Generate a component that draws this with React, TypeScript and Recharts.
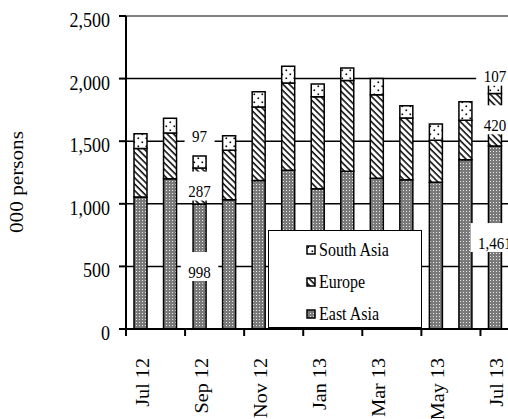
import React from 'react';
import { BarChart, Bar, XAxis, YAxis, CartesianGrid, Legend, LabelList, ReferenceLine } from 'recharts';

const months = ['Jul 12', 'Aug 12', 'Sep 12', 'Oct 12', 'Nov 12', 'Dec 12', 'Jan 13', 'Feb 13', 'Mar 13', 'Apr 13', 'May 13', 'Jun 13', 'Jul 13'];
const eastAsia = [1055, 1200, 998, 1032, 1187, 1267, 1120, 1259, 1205, 1192, 1173, 1352, 1461];
const europe = [387, 365, 287, 395, 586, 698, 736, 725, 667, 493, 334, 315, 420];
const southAsia = [118, 119, 97, 117, 122, 134, 100, 101, 128, 99, 130, 149, 107];
const yTicks = [0, 500, 1000, 1500, 2000, 2500];
const labelledMonths = ['Sep 12', 'Jul 13'];

const data = months.map((month, i) => ({
  month,
  eastAsia: eastAsia[i],
  europe: europe[i],
  southAsia: southAsia[i],
}));

const SERIF = '"Liberation Serif", "Times New Roman", serif';
const STRETCH = 1.18;

const series = [
  { key: 'eastAsia', name: 'East Asia', fill: 'url(#pEast)' },
  { key: 'europe', name: 'Europe', fill: 'url(#pEurope)' },
  { key: 'southAsia', name: 'South Asia', fill: 'url(#pSouth)' },
];

// how far the small top labels sit above their bar
const aboveGap: Record<string, number> = { 'Sep 12': 25, 'Jul 13': 9 };

const textWidth = (s: string) => [...s].reduce((w, c) => w + (c === ',' ? 3.75 : 7.5), 0);

const makeLabel = (above: boolean) => (props: any) => {
  const { x, y, width, height, value, index } = props;
  const month = months[index];
  if (!labelledMonths.includes(month)) return null;
  const text = Number(value).toLocaleString('en-US');
  const cx = Number(x) + Number(width) / 2;
  const cy = above ? Number(y) - aboveGap[month] : Number(y) + Number(height) / 2;
  const w = textWidth(text) + 15;
  const h = 29;
  return (
    <g>
      <rect x={cx - w / 2} y={cy - h / 2} width={w} height={h} fill="#fff" />
      <g transform={`translate(${cx},${cy + 5}) scale(1,${STRETCH})`}>
        <text textAnchor="middle" dy="0.35em" fontSize={15} fontFamily={SERIF} fill="#000">
          {text}
        </text>
      </g>
    </g>
  );
};

const YTick = (props: any) => {
  const { x, y, payload } = props;
  return (
    <g transform={`translate(${x},${y + 3.5}) scale(1,${STRETCH})`}>
      <text textAnchor="end" dy="0.35em" fontSize={18} fontFamily={SERIF} fill="#000">
        {Number(payload.value).toLocaleString('en-US')}
      </text>
    </g>
  );
};

const XTick = (props: any) => {
  const { x, y, payload } = props;
  const half = payload.offset ?? 384 / 13 / 2;
  return (
    <g>
      <line x1={x - half} x2={x - half} y1={y - 7} y2={y} stroke="#000" strokeWidth={2} />
      <g transform={`translate(${x + 1.5},${y + 22}) rotate(-90) scale(1.12,1)`}>
        <text textAnchor="end" dy="0.35em" fontSize={18} fontFamily={SERIF} fill="#000">
          {payload.value}
        </text>
      </g>
    </g>
  );
};

const LegendBox = () => (
  <div
    style={{
      width: 154,
      height: 98,
      boxSizing: 'border-box',
      border: '1px solid #000',
      background: '#fff',
      position: 'relative',
      fontFamily: SERIF,
      color: '#000',
    }}
  >
    {[...series].reverse().map((s, i) => (
      <div
        key={s.key}
        style={{ position: 'absolute', left: 37, top: 10 + i * 32, height: 18, display: 'flex', alignItems: 'center' }}
      >
        <svg width={10} height={10} style={{ display: 'block' }}>
          <rect x={1} y={1} width={8} height={8} fill={s.fill} stroke="#000" strokeWidth={1.5} />
        </svg>
        <span style={{ marginLeft: 3, fontSize: 16, lineHeight: '18px', display: 'inline-block', transform: `scaleY(${STRETCH})` }}>
          {s.name}
        </span>
      </div>
    ))}
  </div>
);

const YLabel = () => (
  <g transform={`translate(17,182) rotate(-90) scale(${STRETCH},1)`}>
    <text textAnchor="middle" dy="0.35em" fontSize={18} fontFamily={SERIF} fill="#000">
      000 persons
    </text>
  </g>
);

export default function App() {
  return (
    <div style={{ position: 'absolute', left: 0, top: 0, width: 508, height: 419, overflow: 'hidden', background: '#fff' }}>
      <BarChart width={540} height={419} data={data} margin={{ top: 16, right: 30, left: 0, bottom: 0 }} barSize={13}>
        <defs>
          <pattern id="pEast" width={3} height={3} patternUnits="userSpaceOnUse">
            <rect width={3} height={3} fill="#7a7a7a" />
            <rect x={1} y={1} width={1} height={1} fill="#e8e8e8" />
          </pattern>
          <pattern id="pEurope" width={4.5} height={4.5} patternUnits="userSpaceOnUse" patternTransform="rotate(-45)">
            <rect width={4.5} height={4.5} fill="#fff" />
            <line x1={1} y1={0} x2={1} y2={4.5} stroke="#000" strokeWidth={1.5} />
          </pattern>
          <pattern id="pSouth" width={8} height={8} patternUnits="userSpaceOnUse">
            <rect width={8} height={8} fill="#fff" />
            <rect x={1.5} y={1.5} width={1.6} height={1.6} fill="#000" />
            <rect x={5.5} y={5.5} width={1.6} height={1.6} fill="#000" />
          </pattern>
        </defs>
        <CartesianGrid vertical={false} stroke="#000" strokeWidth={1.5} />
        <ReferenceLine y={2500} stroke="#808080" strokeWidth={2} />
        <XAxis
          dataKey="month"
          interval={1}
          height={90}
          tickLine={false}
          tickSize={7}
          tickMargin={0}
          axisLine={{ stroke: '#000', strokeWidth: 2 }}
          tick={<XTick />}
        />
        <YAxis
          type="number"
          domain={[0, 2500]}
          ticks={yTicks}
          interval={0}
          width={126}
          tickSize={7}
          tickMargin={9}
          axisLine={{ stroke: '#000', strokeWidth: 2 }}
          tickLine={{ stroke: '#000', strokeWidth: 2 }}
          tick={<YTick />}
          label={() => <YLabel />}
        />
        <Legend
          layout="vertical"
          align="center"
          verticalAlign="middle"
          wrapperStyle={{ left: 268, top: 230, width: 154, height: 98 }}
          content={() => <LegendBox />}
        />
        {series.map((s, i) => (
          <Bar
            key={s.key}
            dataKey={s.key}
            name={s.name}
            stackId="visitors"
            fill={s.fill}
            stroke="#000"
            strokeWidth={1.5}
            isAnimationActive={false}
          >
            <LabelList dataKey={s.key} content={makeLabel(i === series.length - 1)} />
          </Bar>
        ))}
      </BarChart>
    </div>
  );
}
